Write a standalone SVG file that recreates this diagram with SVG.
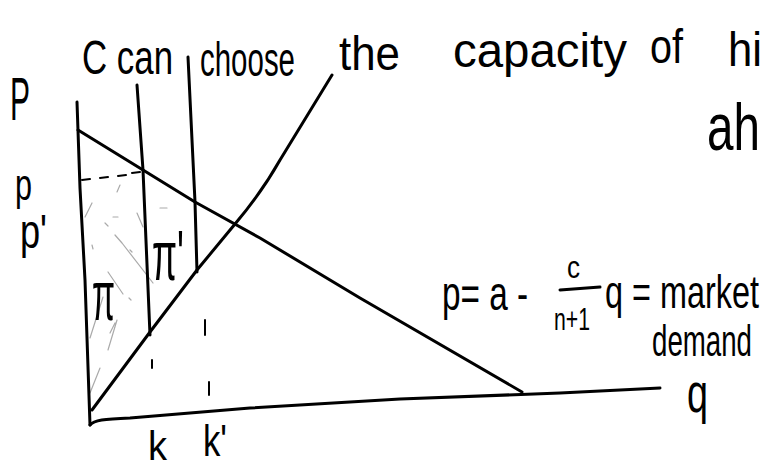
<svg xmlns="http://www.w3.org/2000/svg" width="765" height="470" viewBox="0 0 765 470">
<style>
.ln{fill:none;stroke:#000;stroke-width:3;stroke-linecap:round;stroke-linejoin:round}
.th{fill:none;stroke:#000;stroke-width:2;stroke-linecap:round}
.ht{fill:none;stroke:#aaa;stroke-width:1.2;stroke-linecap:round}
.hw{font-family:"Liberation Sans","DejaVu Sans",sans-serif;fill:#000}
</style>
<rect width="765" height="470" fill="#fff"/>
<g id="hatching">
<path class="ht" d="M92,203 L85,217 M113,217 L118,217 M105,223 L108,226 M117,192 L120,185 M122,243 L153,283 M115,235 L122,243 M137,213 L143,227 M160,208 L167,208 M92,245 L93,249 M108,272 L123,294 M129,298 L131,300 M103,297 L90,338 M110,333 L115,323 M117,320 L108,350 M100,368 L90,393 M130,250 L132,252"/>
</g>
<g id="axes">
<path class="ln" d="M77,102 L80,188 L85,280 L90,425"/>
<path class="ln" d="M90,425 C94,420 104,419 130,418 L250,408 L400,399 L560,393 L660,388"/>
</g>
<g id="demand">
<path class="ln" d="M78,130 L143,170 L195,202 L260,238 L360,298 L522,392"/>
</g>
<g id="supply">
<path class="ln" d="M92,410 L150,332 L197,270 L235,224 Q262,192 280,160 L332,75"/>
</g>
<g id="capacity">
<path class="ln" d="M137,85 L143,170 L150,335"/>
<path class="ln" d="M188,57 L192,140 L195,202 L197,272"/>
<path class="th" d="M82,180 L90,179 M100,178 L108,177 M118,176 L126,175 M132,173 L140,172"/>
<path class="th" d="M152,360 L152,368 M205,320 L205,335 M209,382 L209,395"/>
</g>
<g id="title">
<text class="hw" x="82" y="74" font-size="48" textLength="91" lengthAdjust="spacingAndGlyphs">C can</text>
<text class="hw" x="200" y="76" font-size="48" textLength="95" lengthAdjust="spacingAndGlyphs">choose</text>
<text class="hw" x="339" y="70" font-size="48" textLength="61" lengthAdjust="spacingAndGlyphs">the</text>
<text class="hw" x="453" y="67" font-size="48" textLength="174" lengthAdjust="spacingAndGlyphs">capacity</text>
<text class="hw" x="650" y="63" font-size="48" textLength="33" lengthAdjust="spacingAndGlyphs">of</text>
<text class="hw" x="728" y="66" font-size="48" textLength="34" lengthAdjust="spacingAndGlyphs">hi</text>
<text class="hw" x="707" y="150" font-size="66" textLength="53" lengthAdjust="spacingAndGlyphs">ah</text>
</g>
<g id="axis-labels">
<text class="hw" x="10" y="120" font-size="62" textLength="20" lengthAdjust="spacingAndGlyphs">P</text>
<text class="hw" x="15" y="200" font-size="44" textLength="17" lengthAdjust="spacingAndGlyphs">p</text>
<text class="hw" x="20" y="248" font-size="48" textLength="27" lengthAdjust="spacingAndGlyphs">p'</text>
<text class="hw" x="148" y="460" font-size="40" textLength="19" lengthAdjust="spacingAndGlyphs">k</text>
<text class="hw" x="203" y="456" font-size="44" textLength="24" lengthAdjust="spacingAndGlyphs">k'</text>
<text class="hw" x="687" y="412" font-size="55" textLength="21" lengthAdjust="spacingAndGlyphs">q</text>
</g>
<g id="profit-labels">
<text class="hw" x="92" y="320" font-size="70" textLength="23" lengthAdjust="spacingAndGlyphs">π</text>
<text class="hw" x="152" y="280" font-size="70" textLength="32" lengthAdjust="spacingAndGlyphs">π'</text>
</g>
<g id="equation">
<text class="hw" x="442" y="310" font-size="48" textLength="86" lengthAdjust="spacingAndGlyphs">p= a -</text>
<text class="hw" x="567" y="278" font-size="32" textLength="13" lengthAdjust="spacingAndGlyphs">c</text>
<path class="ln" d="M560,290 L600,287"/>
<text class="hw" x="554" y="330" font-size="32" textLength="36" lengthAdjust="spacingAndGlyphs">n+1</text>
<text class="hw" x="605" y="308" font-size="46" textLength="154" lengthAdjust="spacingAndGlyphs">q = market</text>
<text class="hw" x="652" y="356" font-size="44" textLength="100" lengthAdjust="spacingAndGlyphs">demand</text>
</g>
</svg>
